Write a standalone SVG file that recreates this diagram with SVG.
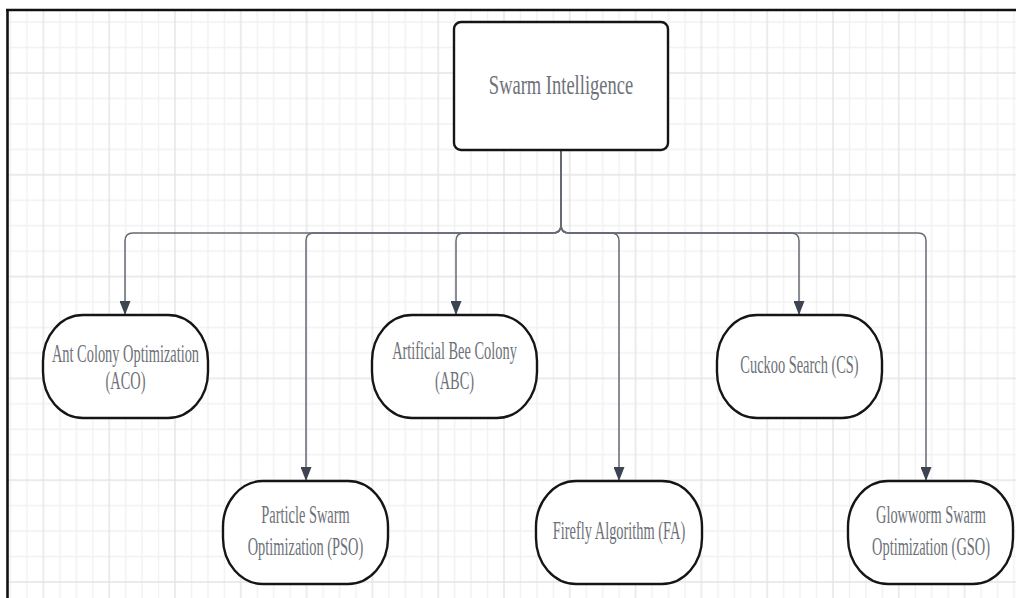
<svg xmlns="http://www.w3.org/2000/svg" width="1016" height="598" viewBox="0 0 1016 598">
<style>
.node{fill:#ffffff;stroke:#151515;stroke-width:2.4}
.lbl{font-family:"Liberation Serif",serif;font-size:14.4px;fill:#6d7178;text-anchor:middle}
.title{font-family:"Liberation Serif",serif;font-size:18.5px;fill:#6d7178;text-anchor:middle}
.conn{fill:none;stroke:#666b73;stroke-width:1.5}
.gl{stroke:#f1f1f1;stroke-width:1.4}
.gd{stroke:#e4e4e4;stroke-width:1.4}
</style>
<defs>
<pattern id="grid" patternUnits="userSpaceOnUse" x="9.5" y="21.1" width="65.8" height="101.8">
<line class="gl" x1="1" y1="0" x2="1" y2="101.8"/>
<line class="gl" x1="17.45" y1="0" x2="17.45" y2="101.8"/>
<line class="gl" x1="50.35" y1="0" x2="50.35" y2="101.8"/>
<line class="gl" x1="0" y1="1" x2="65.8" y2="1"/>
<line class="gl" x1="0" y1="26.45" x2="65.8" y2="26.45"/>
<line class="gl" x1="0" y1="77.35" x2="65.8" y2="77.35"/>
<line class="gd" x1="33.9" y1="0" x2="33.9" y2="101.8"/>
<line class="gd" x1="0" y1="51.9" x2="65.8" y2="51.9"/>
</pattern>
<marker id="arr" markerUnits="userSpaceOnUse" markerWidth="14" markerHeight="11" refX="14" refY="5.5" orient="auto">
<path d="M0,0 L14,5.5 L0,11 Z" fill="#3d4451"/>
</marker>
</defs>
<rect x="0" y="0" width="1016" height="598" fill="#ffffff"/>
<rect x="8" y="11" width="1008" height="587" fill="url(#grid)"/>
<g id="frame" stroke="#111111" stroke-width="2.6" fill="none">
<line x1="6" y1="10" x2="1016" y2="10"/>
<line x1="7.5" y1="9" x2="7.5" y2="598"/>
</g>
<g id="connectors">
<path class="conn" marker-end="url(#arr)" d="M561,150 V225 Q561,233 553,233 H133 Q125,233 125,241 V315"/>
<path class="conn" marker-end="url(#arr)" d="M561,150 V225 Q561,233 553,233 H314 Q306,233 306,241 V481"/>
<path class="conn" marker-end="url(#arr)" d="M561,150 V225 Q561,233 553,233 H464 Q456,233 456,241 V315"/>
<path class="conn" marker-end="url(#arr)" d="M561,150 V225 Q561,233 569,233 H611 Q619,233 619,241 V481"/>
<path class="conn" marker-end="url(#arr)" d="M561,150 V225 Q561,233 569,233 H791 Q799,233 799,241 V315"/>
<path class="conn" marker-end="url(#arr)" d="M561,150 V225 Q561,233 569,233 H918 Q926,233 926,241 V481"/>
</g>
<g id="swarm-intelligence">
<rect class="node" x="454" y="22" width="214" height="128" rx="7" ry="7" stroke-width="2.6"/>
<text class="title" transform="translate(561 94) scale(1 1.5)">Swarm Intelligence</text>
</g>
<g id="aco">
<rect class="node" x="43" y="315" width="165" height="103" rx="40" ry="46"/>
<text class="lbl" transform="translate(125.5 362) scale(1 1.72)">Ant Colony Optimization</text>
<text class="lbl" transform="translate(125.5 389) scale(1 1.72)">(ACO)</text>
</g>
<g id="abc">
<rect class="node" x="372" y="315" width="165" height="103" rx="40" ry="46"/>
<text class="lbl" transform="translate(454.5 359) scale(1 1.72)">Artificial Bee Colony</text>
<text class="lbl" transform="translate(454.5 389) scale(1 1.72)">(ABC)</text>
</g>
<g id="cs">
<rect class="node" x="717" y="315" width="165" height="103" rx="40" ry="46"/>
<text class="lbl" transform="translate(799.5 373) scale(1 1.72)">Cuckoo Search (CS)</text>
</g>
<g id="pso">
<rect class="node" x="223" y="481" width="165" height="103" rx="40" ry="46"/>
<text class="lbl" transform="translate(305.5 523) scale(1 1.72)">Particle Swarm</text>
<text class="lbl" transform="translate(305.5 555) scale(1 1.72)">Optimization (PSO)</text>
</g>
<g id="fa">
<rect class="node" x="536" y="481" width="166" height="103" rx="40" ry="46"/>
<text class="lbl" transform="translate(619 539) scale(1 1.72)">Firefly Algorithm (FA)</text>
</g>
<g id="gso">
<rect class="node" x="848" y="481" width="165" height="103" rx="40" ry="46"/>
<text class="lbl" transform="translate(931 523) scale(1 1.72)">Glowworm Swarm</text>
<text class="lbl" transform="translate(931 555) scale(1 1.72)">Optimization (GSO)</text>
</g>
</svg>
